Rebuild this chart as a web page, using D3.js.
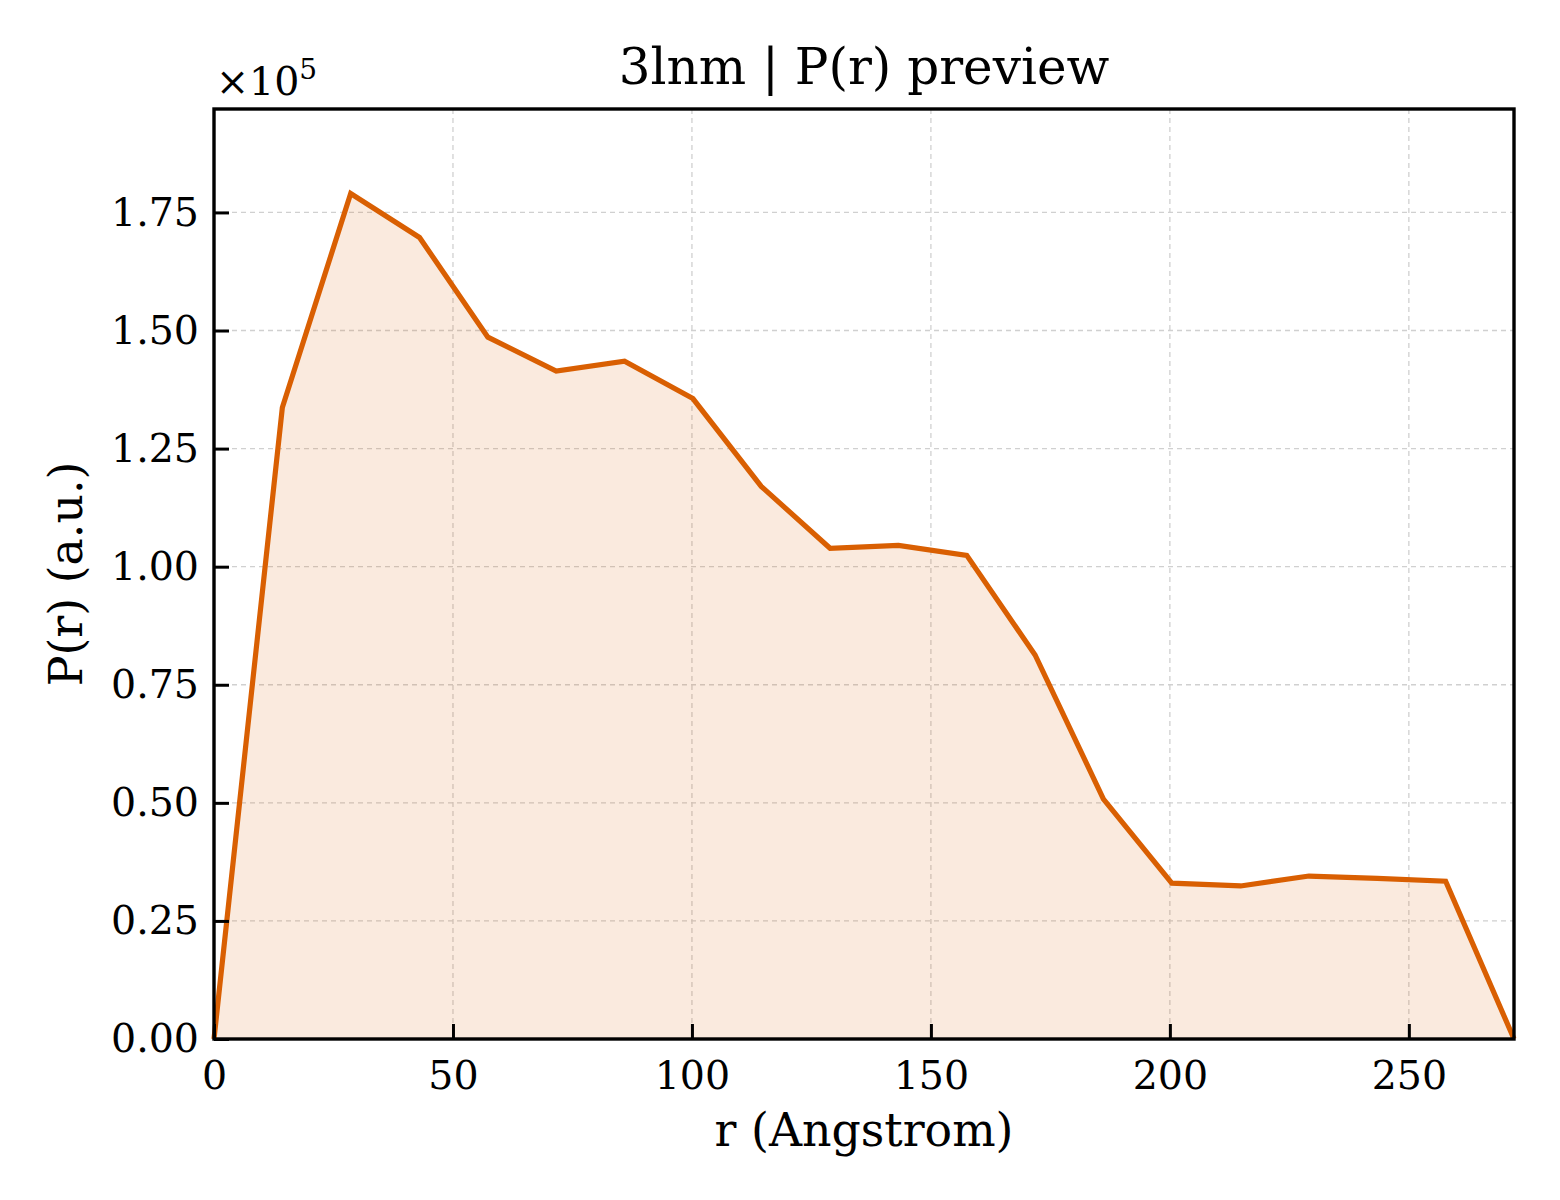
<!DOCTYPE html>
<meta charset="utf-8">
<style>
  body { margin: 0; background: #fff; }
  text { font-family: "DejaVu Serif", serif; fill: #000; }
</style>

<!-- Add a svg area, empty -->
<div id="pr_area"></div>

<!-- Load d3.js -->
<script src="https://d3js.org/d3.v7.min.js"></script>

<script>

    // r values (Angstrom) and P(r) values (x 1e5)
    var rValues = [0, 14.3, 28.6, 43.0, 57.3, 71.6, 85.9, 100.2, 114.5, 128.9,
                   143.2, 157.5, 171.8, 186.1, 200.4, 214.8, 229.1, 243.4, 257.7, 272.0];
    var prValues = [0, 1.337, 1.790, 1.697, 1.486, 1.414, 1.435, 1.356, 1.170, 1.039,
                    1.045, 1.024, 0.813, 0.508, 0.330, 0.324, 0.345, 0.340, 0.334, 0];

    var xTicks = [0, 50, 100, 150, 200, 250];
    var yTicks = [0, 0.25, 0.5, 0.75, 1.0, 1.25, 1.5, 1.75];

    var titleText = "3lnm | P(r) preview";
    var xLabel = "r (Angstrom)";
    var yLabel = "P(r) (a.u.)";

    var data = rValues.map(function(r, i){ return {x: r, y: prValues[i]} });

    // set the dimensions and margins of the graph
    var margin = {top: 109, right: 46, bottom: 161, left: 214},
        width = 1560 - margin.left - margin.right,
        height = 1200 - margin.top - margin.bottom;

    var svg = d3.select("#pr_area")
      .append("svg")
        .attr("width", 1560)
        .attr("height", 1200);

    var g = svg.append("g")
        .attr("transform", "translate(" + margin.left + "," + margin.top + ")");

    // scales
    var x = d3.scaleLinear()
        .domain([0, 272.0])
        .range([0, width]);
    var y = d3.scaleLinear()
        .domain([0, 1.79 * 1.1])
        .range([height, 0]);

    // grid
    g.append("g")
      .selectAll("line")
      .data(xTicks.slice(1))
      .enter().append("line")
        .attr("x1", function(d){ return x(d) })
        .attr("x2", function(d){ return x(d) })
        .attr("y1", 0).attr("y2", height)
        .attr("stroke", "#d0d0d0").attr("stroke-width", 1.3)
        .attr("stroke-dasharray", "5,4");
    g.append("g")
      .selectAll("line")
      .data(yTicks.slice(1))
      .enter().append("line")
        .attr("y1", function(d){ return y(d) })
        .attr("y2", function(d){ return y(d) })
        .attr("x1", 0).attr("x2", width)
        .attr("stroke", "#d0d0d0").attr("stroke-width", 1.3)
        .attr("stroke-dasharray", "5,4");

    // area + line
    g.append("path")
      .datum(data)
      .attr("fill", "#d95f02")
      .attr("fill-opacity", 0.13)
      .attr("d", d3.area()
        .x(function(d){ return x(d.x) })
        .y0(y(0))
        .y1(function(d){ return y(d.y) }));

    g.append("path")
      .datum(data)
      .attr("fill", "none")
      .attr("stroke", "#d95f02")
      .attr("stroke-width", 5.2)
      .attr("stroke-linejoin", "miter")
      .attr("d", d3.line()
        .x(function(d){ return x(d.x) })
        .y(function(d){ return y(d.y) }));

    // axes, ticks pointing inward
    var xAxis = g.append("g")
      .attr("transform", "translate(0," + height + ")")
      .call(d3.axisBottom(x).tickValues(xTicks).tickSizeInner(-15).tickSizeOuter(0).tickPadding(30)
        .tickFormat(d3.format("d")));
    var yAxis = g.append("g")
      .call(d3.axisLeft(y).tickValues(yTicks).tickSizeInner(-15).tickSizeOuter(0).tickPadding(30)
        .tickFormat(d3.format(".2f")));

    [xAxis, yAxis].forEach(function(a){
      a.select(".domain").remove();
      a.selectAll(".tick line").attr("stroke", "#000").attr("stroke-width", 3);
      a.selectAll(".tick text")
        .style("font-family", "'DejaVu Serif', serif")
        .style("font-size", "39.5px")
        .attr("fill", "#000");
    });
    xAxis.selectAll(".tick text").attr("dy", "0.71em").attr("y", 22);
    yAxis.selectAll(".tick text").attr("x", -15);

    // frame
    g.append("rect")
      .attr("x", 0).attr("y", 0)
      .attr("width", width).attr("height", height)
      .attr("fill", "none")
      .attr("stroke", "#000")
      .attr("stroke-width", 3.4);

    // title
    svg.append("text")
      .attr("x", margin.left + width / 2)
      .attr("y", 84)
      .attr("text-anchor", "middle")
      .style("font-size", "50px")
      .text(titleText);

    // offset label
    var off = svg.append("text")
      .attr("x", 216)
      .attr("y", 95)
      .style("font-size", "39.5px");
    off.append("tspan").text("\u00d710");
    off.append("tspan").attr("dy", -16).style("font-size", "28px").text("5");

    // axis labels
    svg.append("text")
      .attr("x", margin.left + width / 2)
      .attr("y", 1146)
      .attr("text-anchor", "middle")
      .style("font-size", "45.8px")
      .text(xLabel);

    svg.append("text")
      .attr("transform", "translate(82," + (margin.top + height / 2) + ") rotate(-90)")
      .attr("text-anchor", "middle")
      .style("font-size", "45.8px")
      .text(yLabel);

</script>
